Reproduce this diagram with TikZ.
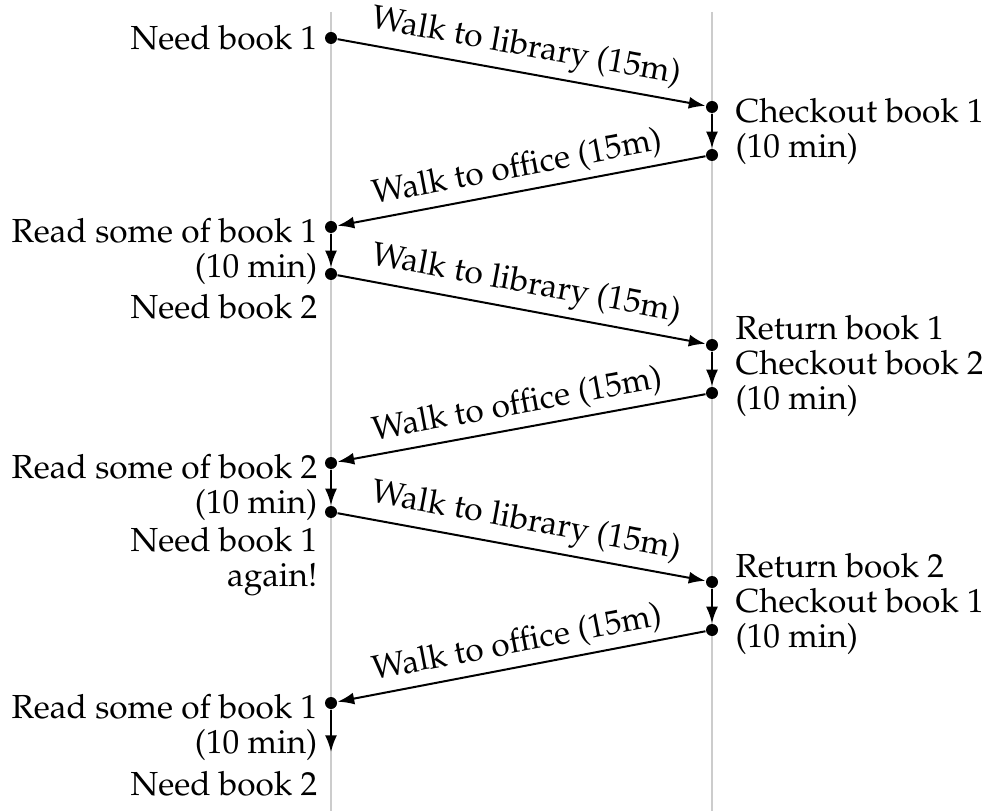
\documentclass[tikz,border=0pt]{standalone}
\usepackage[T1]{fontenc}
\usepackage{mathpazo}
\usetikzlibrary{arrows.meta}
\begin{document}
\begin{tikzpicture}[x=0.3pt, y=-0.3pt,
  dot/.style={circle, fill=black, inner sep=0pt, minimum size=3.6pt},
  walk/.style={-{Latex[length=5pt,width=3.6pt]}, line width=0.6pt},
  lefttxt/.style={anchor=east, align=right, inner sep=0pt, font=\fontsize{10}{10.5}\selectfont},
  righttxt/.style={anchor=west, align=left, inner sep=0pt, font=\fontsize{10}{10.5}\selectfont},
  walktxt/.style={above, sloped, midway, inner sep=2pt, font=\fontsize{10}{10.5}\selectfont}]
\useasboundingbox (0,0) rectangle (982,811);

% office and library time lines
\draw[gray!40, line width=0.6pt] (331,12) -- (331,811);
\draw[gray!40, line width=0.6pt] (712,12) -- (712,811);

% events at the office
\node[dot] (l1) at (331,38) {};
\node[dot] (l2) at (331,227) {};
\node[dot] (l3) at (331,274) {};
\node[dot] (l4) at (331,463) {};
\node[dot] (l5) at (331,512) {};
\node[dot] (l6) at (331,703) {};
\coordinate (end) at (331,752);

% events at the library
\node[dot] (r1) at (712,107) {};
\node[dot] (r2) at (712,155) {};
\node[dot] (r3) at (712,345) {};
\node[dot] (r4) at (712,393) {};
\node[dot] (r5) at (712,582) {};
\node[dot] (r6) at (712,630) {};

% texts
\node[lefttxt] (need1) at (318,38) {Need book 1};
\node[lefttxt] (read1) at (318,251) {Read some of book 1\\(10 min)};
\node[lefttxt] (need2) at (318,307) {Need book 2};
\node[lefttxt] (read2) at (318,487) {Read some of book 2\\(10 min)};
\node[lefttxt] (needagain) at (318,562) {Need book 1\\again!};
\node[lefttxt] (read3) at (318,727) {Read some of book 1\\(10 min)};
\node[lefttxt] (need3) at (318,784) {Need book 2};

\node[righttxt] (checkout1) at (735,131) {Checkout book 1\\(10 min)};
\node[righttxt] (swap1) at (735,366) {Return book 1\\Checkout book 2\\(10 min)};
\node[righttxt] (swap2) at (735,604) {Return book 2\\Checkout book 1\\(10 min)};

% trips and waits
\draw[walk] (l1) -- (r1) node[walktxt] {Walk to library (15m)};
\draw[walk] (r1) -- (r2);
\draw[walk] (r2) -- (l2) node[walktxt] {Walk to office (15m)};
\draw[walk] (l2) -- (l3);
\draw[walk] (l3) -- (r3) node[walktxt] {Walk to library (15m)};
\draw[walk] (r3) -- (r4);
\draw[walk] (r4) -- (l4) node[walktxt] {Walk to office (15m)};
\draw[walk] (l4) -- (l5);
\draw[walk] (l5) -- (r5) node[walktxt] {Walk to library (15m)};
\draw[walk] (r5) -- (r6);
\draw[walk] (r6) -- (l6) node[walktxt] {Walk to office (15m)};
\draw[walk] (l6) -- (end);

\end{tikzpicture}
\end{document}
